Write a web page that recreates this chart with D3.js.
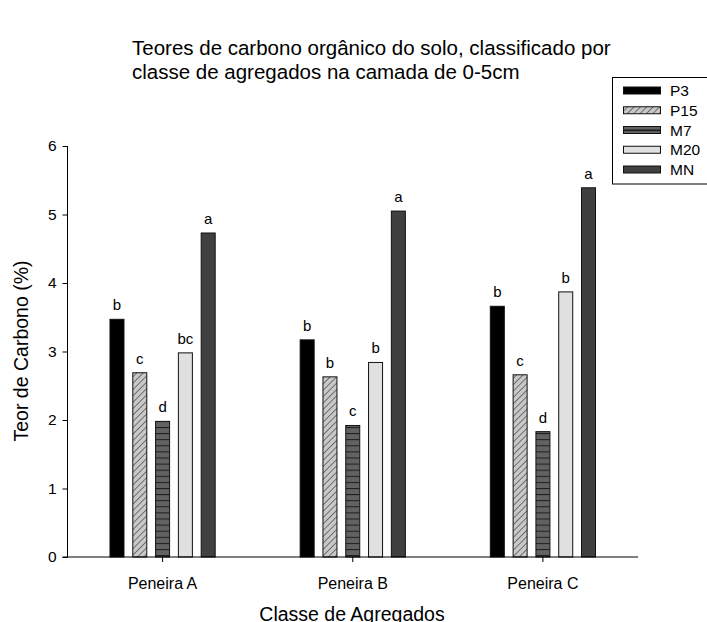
<!DOCTYPE html>
<html>
<head>
<meta charset="utf-8">
<script src="https://cdn.jsdelivr.net/npm/d3@7"></script>
<style>
  html, body { margin: 0; padding: 0; background: #fff; }
  svg { display: block; font-family: Arial, "Liberation Sans", sans-serif; }
</style>
</head>
<body>
<svg id="chart" width="707" height="622"></svg>
<script>
// Aggregate size classes and treatments
const groups = ["Peneira A", "Peneira B", "Peneira C"];
const series = ["P3", "P15", "M7", "M20", "MN"];

// Organic carbon content (%) per treatment, one value per sieve class
const P3  = [3.47, 3.17, 3.66];
const P15 = [2.69, 2.63, 2.66];
const M7  = [1.98, 1.92, 1.83];
const M20 = [2.98, 2.84, 3.87];
const MN  = [4.73, 5.05, 5.39];

// Mean-comparison letters shown above each bar
const lettersP3  = ["b", "b", "b"];
const lettersP15 = ["c", "b", "c"];
const lettersM7  = ["d", "c", "d"];
const lettersM20 = ["bc", "b", "b"];
const lettersMN  = ["a", "a", "a"];

const yTicks = [0, 1, 2, 3, 4, 5, 6];

const values = { P3, P15, M7, M20, MN };
const letters = { P3: lettersP3, P15: lettersP15, M7: lettersM7, M20: lettersM20, MN: lettersMN };

const rows = [];
groups.forEach((g, gi) => {
  series.forEach(s => rows.push({ group: g, series: s, value: values[s][gi], letter: letters[s][gi] }));
});

const FONT = "Arial, 'Liberation Sans', sans-serif";
const svg = d3.select("#chart");
const defs = svg.append("defs");

// Diagonal hatch for P15
const hatch = defs.append("pattern")
  .attr("id", "hatch")
  .attr("patternUnits", "userSpaceOnUse")
  .attr("width", 4.5).attr("height", 4.5)
  .attr("patternTransform", "rotate(45)");
hatch.append("rect").attr("width", 4.5).attr("height", 4.5).attr("fill", "#c8c8c8");
hatch.append("line").attr("x1", 0).attr("y1", 0).attr("x2", 0).attr("y2", 4.5)
  .attr("stroke", "#4a4a4a").attr("stroke-width", 1.4);

// Horizontal stripes for M7
const stripes = defs.append("pattern")
  .attr("id", "stripes")
  .attr("patternUnits", "userSpaceOnUse")
  .attr("width", 10).attr("height", 6.1);
stripes.append("rect").attr("width", 10).attr("height", 6.1).attr("fill", "#626262");
stripes.append("line").attr("x1", 0).attr("y1", 0.5).attr("x2", 10).attr("y2", 0.5)
  .attr("stroke", "#1c1c1c").attr("stroke-width", 1);

const fills = { P3: "#000000", P15: "url(#hatch)", M7: "url(#stripes)", M20: "#e0e0e0", MN: "#404040" };

const x = d3.scaleBand().domain(groups).range([67.5, 638]).padding(0);
const xInner = d3.scaleBand().domain(series).range([-57, 57]).paddingInner(0.386).paddingOuter(0.193);
const y = d3.scaleLinear().domain([0, 6]).range([557, 146]);

// Title
const title = svg.append("text").attr("font-size", 20.5).attr("fill", "#000");
title.append("tspan").attr("x", 132).attr("y", 55).text("Teores de carbono orgânico do solo, classificado por");
title.append("tspan").attr("x", 132).attr("y", 79).text("classe de agregados na camada de 0-5cm");

// Bars
const plot = svg.append("g");
plot.selectAll("rect.bar").data(rows).join("rect")
  .attr("class", "bar")
  .attr("x", d => x(d.group) + x.bandwidth() / 2 + xInner(d.series))
  .attr("y", d => y(d.value))
  .attr("width", xInner.bandwidth())
  .attr("height", d => y(0) - y(d.value))
  .attr("fill", d => fills[d.series])
  .attr("stroke", "#111").attr("stroke-width", 1);

// Letters above bars
plot.selectAll("text.letter").data(rows).join("text")
  .attr("class", "letter")
  .attr("x", d => x(d.group) + x.bandwidth() / 2 + xInner(d.series) + xInner.bandwidth() / 2)
  .attr("y", d => y(d.value) - 9)
  .attr("text-anchor", "middle")
  .attr("font-size", 15)
  .text(d => d.letter);

// Y axis
const yAxis = svg.append("g").attr("transform", "translate(67.5,0)")
  .call(d3.axisLeft(y).tickValues(yTicks).tickSize(5).tickPadding(6).tickFormat(d3.format("d")));
yAxis.selectAll("text").attr("font-size", 15.5).attr("fill", "#000").attr("font-family", FONT);
yAxis.select(".domain").attr("stroke", "#000").attr("d", `M0,${y(6)}V${y(0)}`);
yAxis.selectAll(".tick line").attr("stroke", "#000");

// X axis
const xAxis = svg.append("g").attr("transform", `translate(0,${y(0)})`)
  .call(d3.axisBottom(x).tickSize(5).tickPadding(16));
xAxis.selectAll("text").attr("font-size", 16).attr("fill", "#000").attr("font-family", FONT);
xAxis.select(".domain").attr("stroke", "#000").attr("d", `M62.5,0H638`);
xAxis.selectAll(".tick line").attr("stroke", "#000");

// Axis titles
svg.append("text").attr("x", 352).attr("y", 621).attr("text-anchor", "middle")
  .attr("font-size", 19.5).text("Classe de Agregados");
svg.append("text").attr("transform", "translate(28,351) rotate(-90)")
  .attr("text-anchor", "middle").attr("font-size", 19.5).text("Teor de Carbono (%)");

// Legend
const legend = svg.append("g");
legend.append("rect").attr("x", 612.5).attr("y", 77.5).attr("width", 120).attr("height", 106.5)
  .attr("fill", "#fff").attr("stroke", "#000").attr("stroke-width", 1);
const ly = d3.scalePoint().domain(series).range([90.5, 169.5]);
const li = legend.selectAll("g.item").data(series).join("g").attr("class", "item")
  .attr("transform", s => `translate(0,${ly(s)})`);
li.append("rect").attr("x", 623.5).attr("y", -3.5).attr("width", 37).attr("height", 7)
  .attr("fill", s => fills[s]).attr("stroke", "#111").attr("stroke-width", 1);
li.filter(s => s === "M7").append("line").attr("x1", 623.5).attr("x2", 660.5).attr("y1", 0).attr("y2", 0)
  .attr("stroke", "#1c1c1c").attr("stroke-width", 1);
li.append("text").attr("x", 670).attr("y", 5.5).attr("font-size", 15.5).text(s => s);
</script>
</body>
</html>
